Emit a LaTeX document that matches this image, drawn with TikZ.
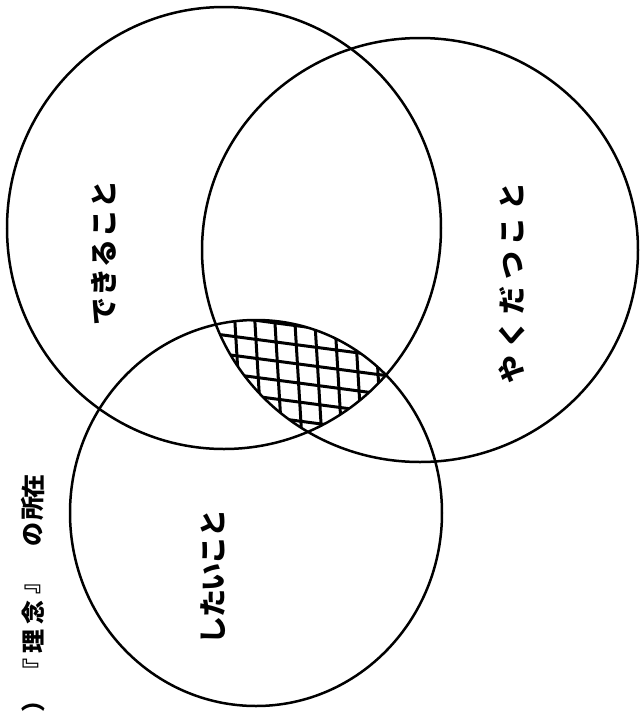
\documentclass[tikz,border=0pt]{standalone}
\usepackage{fontspec}
\newfontfamily\jp{Noto Sans CJK JP}
\newlength\cpitch
\newcommand\cb[1]{\makebox[\cpitch][c]{#1}}
\begin{document}
\begin{tikzpicture}[x=1pt,y=-1pt,
  ring/.style={line width=2.5pt},
  hatchline/.style={line width=3pt},
  lbl/.style={rotate=90, inner sep=0pt, font=\jp\bfseries\fontsize{28pt}{28pt}\selectfont},
  captxt/.style={rotate=90, inner sep=0pt, font=\jp\bfseries\fontsize{24pt}{24pt}\selectfont}]
\useasboundingbox[fill=white] (0,0) rectangle (640,716);

% hatched common region
\begin{scope}
  \clip (224,228) ellipse [x radius=217pt, y radius=221pt];
  \clip (420,250) ellipse [x radius=218pt, y radius=212pt];
  \clip (256,513) ellipse [x radius=186pt, y radius=193pt];
  \foreach \k in {0,...,12} {\draw[hatchline] (170,290+19*\k) -- (450,327+19*\k);}
  \foreach \k in {0,...,13} {\draw[hatchline] (173+20*\k,290) -- (185+20*\k,490);}
\end{scope}

% circles
\draw[ring] (224,228) ellipse [x radius=217pt, y radius=221pt];
\draw[ring] (420,250) ellipse [x radius=218pt, y radius=212pt];
\draw[ring] (256,513) ellipse [x radius=186pt, y radius=193pt];

% labels
\node[lbl] (dekiru) at (104,253) {\setlength\cpitch{29.4pt}\cb{で}\cb{き}\cb{る}\cb{こ}\cb{と}};
\node[lbl] (yakudatsu) at (512,283) {\setlength\cpitch{34.5pt}\cb{や}\cb{く}\cb{だ}\cb{つ}\cb{こ}\cb{と}};
\node[lbl] (shitai) at (213,577) {\setlength\cpitch{26.6pt}\cb{し}\cb{た}\cb{い}\cb{こ}\cb{と}};

% caption
\node[captxt] (c1) at (33,700) {）};
\node[captxt] (c2) at (33,670) {『};
\node[captxt] (c3) at (33,641) {理};
\node[captxt] (c4) at (33,612) {念};
\node[captxt] (c5) at (33,582) {』};
\node[captxt] (c6) at (33,534) {の};
\node[captxt] (c7) at (33,508) {所};
\node[captxt] (c8) at (33,486) {在};
\end{tikzpicture}
\end{document}
